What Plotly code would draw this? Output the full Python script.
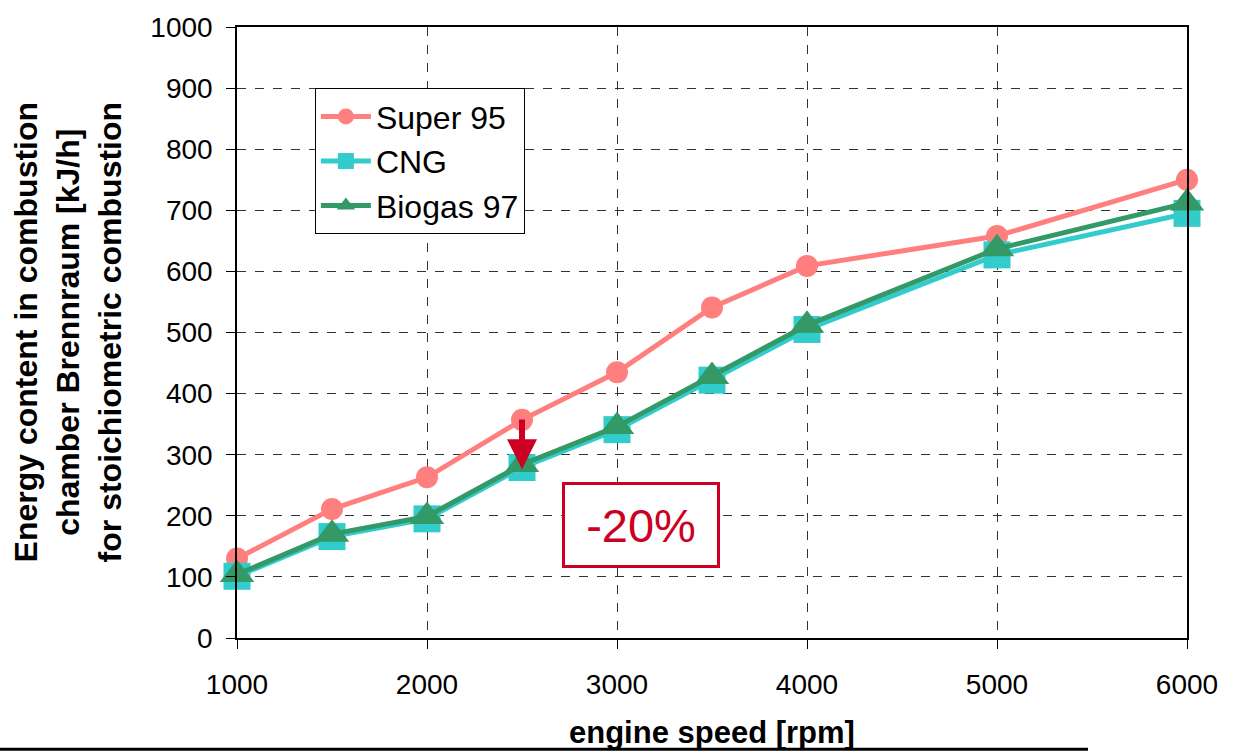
import plotly.graph_objects as go

# engine speed [rpm]
speed = [1000, 1500, 2000, 2500, 3000, 3500, 4000, 5000, 6000]

# energy content in the combustion chamber [kJ/h]
super95 = [130, 211, 263, 357, 435, 541, 609, 658, 750]
cng = [101, 166, 195, 279, 341, 422, 505, 627, 695]
biogas97 = [104, 170, 199, 284, 346, 428, 512, 637, 712]

x_ticks = [1000, 2000, 3000, 4000, 5000, 6000]
y_ticks = [0, 100, 200, 300, 400, 500, 600, 700, 800, 900, 1000]

# arrow from Super 95 down to the gas fuels at 2500 rpm
arrow_x = 2500
arrow_from = 360
arrow_to = 276

FONT = "Liberation Sans, Arial, sans-serif"
RED = "#CC0022"

fig = go.Figure()

fig.add_trace(go.Scatter(
    x=speed, y=super95, name="Super 95", mode="lines+markers",
    line=dict(color="#FF7F7F", width=5),
    marker=dict(symbol="circle", size=22, color="#FF7F7F"),
    cliponaxis=False,
))
fig.add_trace(go.Scatter(
    x=speed, y=cng, name="CNG", mode="lines+markers",
    line=dict(color="#33CCCC", width=5),
    marker=dict(symbol="square", size=27, color="#33CCCC"),
    cliponaxis=False,
))
fig.add_trace(go.Scatter(
    x=speed, y=biogas97, name="Biogas 97", mode="lines+markers",
    line=dict(color="#339966", width=5),
    marker=dict(symbol="triangle-up", size=30, color="#339966"),
    cliponaxis=False,
))

axis_common = dict(
    showline=True, linecolor="black", linewidth=1.5, mirror=True,
    ticks="outside", ticklen=9, tickcolor="black", tickwidth=1,
    showgrid=True, gridcolor="#333333", gridwidth=1, griddash="dash",
    zeroline=False,
    tickfont=dict(family=FONT, size=28, color="black"),
)

fig.update_xaxes(
    range=[1000, 6000], tickvals=x_ticks, ticktext=[str(v) for v in x_ticks],
    ticklabelstandoff=12, **axis_common,
)
fig.update_yaxes(
    range=[0, 1000], tickvals=y_ticks, ticktext=[str(v) for v in y_ticks],
    ticklabelstandoff=8, **axis_common,
)

annotations = [
    # axis titles
    dict(
        text="<b>Energy content in combustion<br>chamber Brennraum [kJ/h]<br>for stoichiometric combustion</b>",
        xref="paper", yref="paper", x=-0.178, y=0.5, textangle=-90,
        showarrow=False, xanchor="center", yanchor="middle",
        font=dict(family=FONT, size=32, color="black"),
    ),
    dict(
        text="<b>engine speed [rpm]</b>",
        xref="paper", yref="paper", x=0.5, y=-0.154,
        showarrow=False, xanchor="center", yanchor="middle",
        font=dict(family=FONT, size=31, color="black"),
    ),
    # -20% label
    dict(
        text="-20%", x=3126, y=185, xref="x", yref="y", showarrow=False,
        font=dict(family=FONT, size=47, color=RED),
        bgcolor="white", bordercolor=RED, borderwidth=3, borderpad=2,
        width=148, height=76, xanchor="center", yanchor="middle",
    ),
    # downward arrow
    dict(
        text="", x=arrow_x, y=arrow_to, ax=arrow_x, ay=arrow_from,
        xref="x", yref="y", axref="x", ayref="y",
        showarrow=True, arrowhead=2, arrowsize=1, arrowwidth=6,
        arrowcolor=RED, standoff=0, startstandoff=0,
    ),
]

fig.update_layout(
    width=1241, height=755,
    margin=dict(l=237, r=54, t=23, b=117),
    paper_bgcolor="white", plot_bgcolor="white",
    font=dict(family=FONT, size=28, color="black"),
    showlegend=True,
    legend=dict(
        x=0.082, y=0.9, xanchor="left", yanchor="top",
        bgcolor="white", bordercolor="black", borderwidth=1,
        font=dict(family=FONT, size=32, color="black"),
        itemsizing="trace", itemwidth=50, tracegroupgap=0,
    ),
    annotations=annotations,
    shapes=[
        dict(
            type="line", xref="paper", yref="paper",
            x0=-0.2495, x1=0.8958, y0=-0.182, y1=-0.182,
            line=dict(color="black", width=3),
        )
    ],
)

fig.write_html("out.html")
